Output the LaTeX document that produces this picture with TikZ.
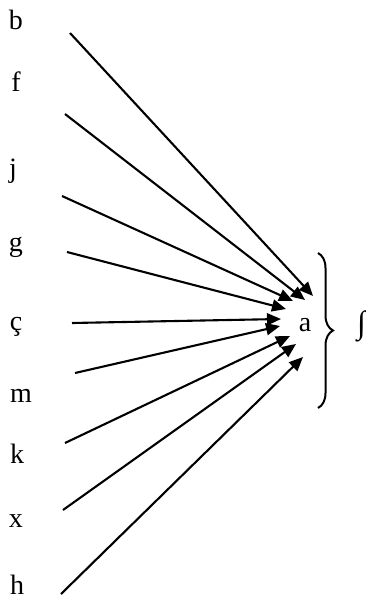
\documentclass[tikz,border=0pt]{standalone}
\usepackage{fontspec}
\setmainfont{Liberation Serif}
\usetikzlibrary{arrows.meta,decorations.pathreplacing}
\begin{document}
\begin{tikzpicture}[x=1pt,y=-1pt,
  lbl/.style={font=\fontsize{28}{32}\selectfont, inner sep=0pt, anchor=base},
  arr/.style={line width=2.1pt, -{Triangle[length=14pt,width=12pt]}},
  brc/.style={line width=2pt, decorate, decoration={brace, amplitude=15pt}}]
\useasboundingbox (0,0) rectangle (365,599);
% letters
\node[lbl] (b) at (16,30) {b};
\node[lbl] (f) at (16,92) {f};
\node[lbl] (j) at (13,177) {j};
\node[lbl] (g) at (16,251) {g};
\node[lbl] (c) at (16,330) {ç};
\node[lbl] (m) at (21,402) {m};
\node[lbl] (k) at (17,463) {k};
\node[lbl] (x) at (16,527) {x};
\node[lbl] (h) at (17,594) {h};
\node[lbl] (a) at (305,331) {a};
\node[font=\fontsize{32}{36}\selectfont, inner sep=0pt, anchor=base west] (int) at (357,333) {∫};
% start points
\coordinate (sb) at (70,33);
\coordinate (sf) at (65,114);
\coordinate (sj) at (62,196);
\coordinate (sg) at (67,252);
\coordinate (sc) at (72,323);
\coordinate (sm) at (75,373);
\coordinate (sk) at (65,443);
\coordinate (sx) at (63,510);
\coordinate (sh) at (61,594);
% arrow tips
\coordinate (tb) at (313,296);
\coordinate (tf) at (305,300);
\coordinate (tj) at (293,301);
\coordinate (tg) at (286,309);
\coordinate (tc) at (281,319);
\coordinate (tm) at (280,326);
\coordinate (tk) at (290,336);
\coordinate (tx) at (296,344);
\coordinate (th) at (303,357);
\foreach \n in {b,f,j,g,c,m,k,x,h}{
  \draw[arr] (s\n) -- (t\n);
}
% brace
\coordinate (br1) at (318,253);
\coordinate (br2) at (318,408);
\draw[brc] (br1) -- (br2);
\end{tikzpicture}
\end{document}
